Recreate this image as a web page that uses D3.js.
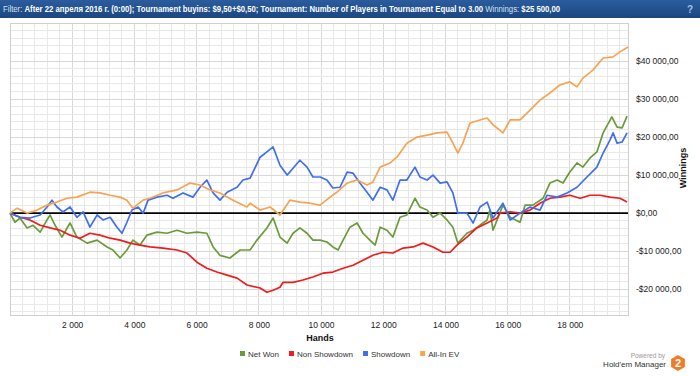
<!DOCTYPE html>
<html><head><meta charset="utf-8">
<script src="https://cdn.jsdelivr.net/npm/d3@7/dist/d3.min.js"></script>
<style>html,body{margin:0;padding:0;background:#fff;}svg{display:block;}</style>
</head><body>
<svg id="c" width="700" height="376"></svg>
<script>
// ---- data ----
const seriesNames = ["Net Won", "Non Showdown", "Showdown", "All-In EV"];
const seriesColors = ["#6a9b3b", "#ee1c1c", "#3f6ff0", "#f7a352"];
const xTicks = [2000, 4000, 6000, 8000, 10000, 12000, 14000, 16000, 18000];
const yTicks = [-20000, -10000, 0, 10000, 20000, 30000, 40000];
const totalHands = 19870;

const netWon = [[0,0],[160,-2400],[320,-1300],[550,-3900],[740,-3200],[970,-5000],[1190,-1800],[1290,-500],[1450,-3200],[1670,-6300],[1930,-2600],[2150,-6300],[2480,-7900],[2800,-7100],[3120,-8900],[3310,-9700],[3540,-11800],[3760,-9700],[3950,-7100],[4180,-8400],[4400,-5800],[4730,-5000],[5050,-5300],[5370,-4500],[5690,-5300],[6010,-5000],[6330,-5300],[6530,-8900],[6750,-11100],[7070,-11800],[7400,-9700],[7720,-9700],[7940,-7100],[8260,-3900],[8460,-1300],[8680,-6300],[8910,-7900],[9100,-5300],[9320,-3900],[9550,-5300],[9740,-7100],[9970,-7100],[10190,-7600],[10380,-8900],[10550,-9700],[10710,-7100],[10930,-3700],[11160,-2600],[11350,-5300],[11570,-7100],[11740,-8400],[11900,-3700],[12120,-4500],[12310,-6300],[12540,-1100],[12760,-500],[13020,3900],[13180,1600],[13410,800],[13600,-1100],[13830,0],[14050,-1800],[14240,-3700],[14400,-7900],[14690,-5300],[14890,-4500],[15110,-3200],[15340,-1800],[15430,800],[15530,-4500],[15850,2100],[16080,-1100],[16400,-2400],[16560,2100],[16810,2100],[17140,3900],[17360,7900],[17590,8700],[17780,7900],[18000,10800],[18230,13200],[18420,12100],[18650,14500],[18870,16100],[19070,21100],[19350,25300],[19520,22600],[19680,22400],[19840,25500]];

const nonShowdown = [[0,0],[320,-1100],[640,-1800],[970,-3200],[1290,-3900],[1610,-4500],[1930,-5800],[2250,-6600],[2570,-5300],[2890,-5800],[3220,-6600],[3540,-7100],[3860,-7900],[4180,-8400],[4500,-8900],[4920,-9200],[5370,-9700],[5690,-10500],[6010,-12900],[6330,-14500],[6650,-15500],[6980,-16300],[7300,-17100],[7620,-18900],[8040,-19700],[8260,-20800],[8460,-20300],[8680,-19500],[8780,-18200],[9100,-18200],[9420,-17600],[9740,-16800],[10060,-15800],[10380,-15500],[10710,-14500],[11030,-13700],[11350,-12400],[11670,-11100],[11990,-10300],[12310,-10500],[12640,-9200],[12960,-8900],[13280,-7900],[13600,-8900],[13920,-10300],[14150,-10300],[14370,-8400],[14690,-6300],[15010,-3900],[15340,-2600],[15660,-1300],[15750,0],[16080,300],[16400,0],[16720,800],[17040,2600],[17360,3900],[17680,4200],[18000,4700],[18330,3900],[18650,4700],[18970,4700],[19290,4200],[19610,3900],[19840,2900]];

const showdown = [[0,0],[320,-1100],[640,-1300],[970,-500],[1190,1600],[1350,3400],[1510,1600],[1700,300],[1930,1600],[2150,-1100],[2350,300],[2570,-3700],[2800,-500],[2990,-1800],[3220,-1100],[3440,-3700],[3600,-5300],[3760,-2400],[3920,800],[4120,1600],[4280,0],[4440,3400],[4730,4200],[5050,4700],[5240,3900],[5560,5300],[5880,4200],[6110,6800],[6330,8700],[6530,5300],[6750,3400],[6980,5500],[7300,6800],[7490,8700],[7720,9200],[8040,14700],[8260,16100],[8460,17400],[8680,12600],[8910,10000],[9100,11800],[9320,13900],[9550,12100],[9740,9500],[9970,9500],[10190,8700],[10380,6600],[10610,6800],[10840,10800],[11030,10500],[11250,7900],[11480,5500],[11670,3400],[11900,6800],[12120,6100],[12310,3400],[12540,8700],[12760,8700],[13020,12100],[13180,9500],[13410,8700],[13600,10000],[13830,7900],[14050,8200],[14240,5300],[14400,0],[14690,0],[14890,-2600],[15110,1600],[15340,2900],[15530,-1300],[15850,2600],[16080,-1800],[16400,0],[16720,1600],[17040,800],[17270,4700],[17590,4200],[17910,5300],[18230,6800],[18550,9500],[18870,12100],[19070,15800],[19290,19200],[19390,21100],[19520,18400],[19680,18700],[19840,21100]];

const allInEV = [[0,0],[230,1300],[550,0],[870,800],[1190,2100],[1510,2900],[1830,3900],[2150,4200],[2570,5500],[2890,5300],[3220,4700],[3540,4200],[3760,3400],[3950,1300],[4280,3400],[4500,3900],[4920,5300],[5370,6100],[5790,7900],[6110,7400],[6430,6100],[6750,5300],[7170,3400],[7620,1600],[7720,2600],[8040,800],[8360,1600],[8680,-500],[9000,3400],[9320,2900],[9650,2600],[9970,2100],[10290,4200],[10510,5500],[10840,7900],[11160,8700],[11480,7400],[11670,8200],[11900,12100],[12220,13200],[12440,14700],[12760,18400],[13090,20000],[13410,20500],[13730,21100],[14050,21300],[14240,18400],[14400,15800],[14560,18400],[14790,23700],[15110,24500],[15340,25000],[15530,23200],[15750,21800],[15850,21100],[16080,24500],[16400,24500],[16720,27100],[17040,29700],[17360,31600],[17680,33700],[18000,34500],[18230,33200],[18420,35500],[18740,37600],[19070,40800],[19390,41100],[19610,42400],[19870,43700]];

const seriesData = [netWon, nonShowdown, showdown, allInEV];

const headerParts = [
  {t:"Filter: ", b:false},
  {t:"After 22 апреля 2016 г. (0:00); Tournament buyins: $9,50+$0,50; Tournament: Number of Players in Tournament Equal to 3.00", b:true},
  {t:" Winnings: ", b:false},
  {t:"$25 500,00", b:true}
];

// ---- drawing ----
const svg = d3.select("#c");
const FONT = "'Liberation Sans', Arial, sans-serif";
const plot = {l:10, r:628, t:23, b:315};

const x = d3.scaleLinear().domain([0, totalHands]).range([plot.l, plot.r]);
const y = d3.scaleLinear().domain([-26800, 50000]).range([plot.b, plot.t]);

// header
const defs = svg.append("defs");
const grad = defs.append("linearGradient").attr("id","hg").attr("x1",0).attr("x2",0).attr("y1",0).attr("y2",1);
grad.append("stop").attr("offset","0%").attr("stop-color","#2a5c9e");
grad.append("stop").attr("offset","100%").attr("stop-color","#1b477f");
svg.append("rect").attr("x",0).attr("y",0).attr("width",700).attr("height",18).attr("fill","url(#hg)");
const ht = svg.append("text").attr("x",3).attr("y",12.5).attr("font-family",FONT).attr("font-size",9.5).attr("fill","#fff");
headerParts.forEach(p=>{
  ht.append("tspan").text(p.t).attr("font-weight",p.b?"bold":"normal").attr("fill",p.b?"#ffffff":"#d6e0ef");
});
const hl = ht.node().getComputedTextLength();
const targetW = 558;
ht.attr("transform",`translate(3,0) scale(${targetW/hl},1) translate(-3,0)`);
svg.append("text").attr("x",690).attr("y",12.5).attr("text-anchor","middle").attr("font-family",FONT)
  .attr("font-size",10).attr("font-weight","bold").attr("fill","#9fc0ea").text("?");

// grid
const g = svg.append("g");
g.selectAll("line.vg").data(d3.range(400, totalHands, 400)).join("line")
  .attr("x1",d=>x(d)).attr("x2",d=>x(d)).attr("y1",plot.t).attr("y2",plot.b)
  .attr("stroke",d=>d%2000===0?"#d8d8d8":"#e8e8e8").attr("stroke-width",1).attr("shape-rendering","crispEdges");
g.selectAll("line.hg").data(d3.range(-26000, 50001, 2000)).join("line")
  .attr("x1",plot.l).attr("x2",plot.r).attr("y1",d=>y(d)).attr("y2",d=>y(d))
  .attr("stroke",d=>d%10000===0?"#d8d8d8":"#e8e8e8").attr("stroke-width",1).attr("shape-rendering","crispEdges");
g.append("rect").attr("x",plot.l).attr("y",plot.t).attr("width",plot.r-plot.l).attr("height",plot.b-plot.t)
  .attr("fill","none").attr("stroke","#d0d0d0").attr("shape-rendering","crispEdges");

// zero line
svg.append("line").attr("x1",plot.l).attr("x2",plot.r).attr("y1",y(0)).attr("y2",y(0))
  .attr("stroke","#000").attr("stroke-width",1.6);

// series
const line = d3.line().x(d=>x(d[0])).y(d=>y(d[1]));
seriesData.forEach((s,i)=>{
  svg.append("path").datum(s).attr("d",line).attr("fill","none")
    .attr("stroke",seriesColors[i]).attr("stroke-width",1.7).attr("stroke-linejoin","round");
});

// axes
const fmtNum = v => Math.abs(v).toString().replace(/\B(?=(\d{3})+(?!\d))/g," ");
const fmtMoney = v => (v<0?"-":"")+"$"+fmtNum(v)+",00";

const xa = svg.append("g").attr("transform",`translate(0,${plot.b})`)
  .call(d3.axisBottom(x).tickValues(xTicks).tickFormat(fmtNum).tickSize(0).tickPadding(7));
xa.select(".domain").remove();
xa.selectAll("text").attr("font-family",FONT).attr("font-size",8.5).attr("fill","#222");

const ya = svg.append("g").attr("transform",`translate(${plot.r+8},0)`)
  .call(d3.axisRight(y).tickValues(yTicks).tickFormat(fmtMoney).tickSize(0).tickPadding(0));
ya.select(".domain").remove();
ya.selectAll("text").attr("font-family",FONT).attr("font-size",8.5).attr("fill","#222");

svg.append("text").attr("x",320).attr("y",341).attr("text-anchor","middle").attr("font-family",FONT)
  .attr("font-size",9).attr("font-weight","bold").attr("fill","#111").text("Hands");
svg.append("text").attr("transform","translate(686,168) rotate(-90)").attr("text-anchor","middle").attr("font-family",FONT)
  .attr("font-size",9).attr("font-weight","bold").attr("fill","#111").text("Winnings");

// legend
const lg = svg.append("g");
let lx = 240;
seriesNames.forEach((n,i)=>{
  lg.append("rect").attr("x",lx).attr("y",351).attr("width",5).attr("height",5).attr("fill",seriesColors[i]);
  const t = lg.append("text").attr("x",lx+8).attr("y",356.5).attr("font-family",FONT).attr("font-size",8)
    .attr("fill","#333").text(n);
  lx += 8 + t.node().getComputedTextLength() + 10;
});

// logo
svg.append("text").attr("x",665).attr("y",358).attr("text-anchor","end").attr("font-family",FONT)
  .attr("font-size",6.5).attr("fill","#999").text("Powered by");
svg.append("text").attr("x",666).attr("y",367).attr("text-anchor","end").attr("font-family",FONT)
  .attr("font-size",8).attr("fill","#333").text("Hold'em Manager");
const hx = 678, hy = 363, hr = 8;
const hex = d3.range(6).map(k=>{const a=Math.PI/3*k+Math.PI/6; return [hx+hr*Math.cos(a), hy+hr*Math.sin(a)];});
svg.append("polygon").attr("points",hex.map(p=>p.join(",")).join(" ")).attr("fill","#ee7d2a");
svg.append("text").attr("x",hx).attr("y",hy+4).attr("text-anchor","middle").attr("font-family",FONT)
  .attr("font-size",11).attr("font-weight","bold").attr("fill","#fff").text("2");
</script>
</body></html>
